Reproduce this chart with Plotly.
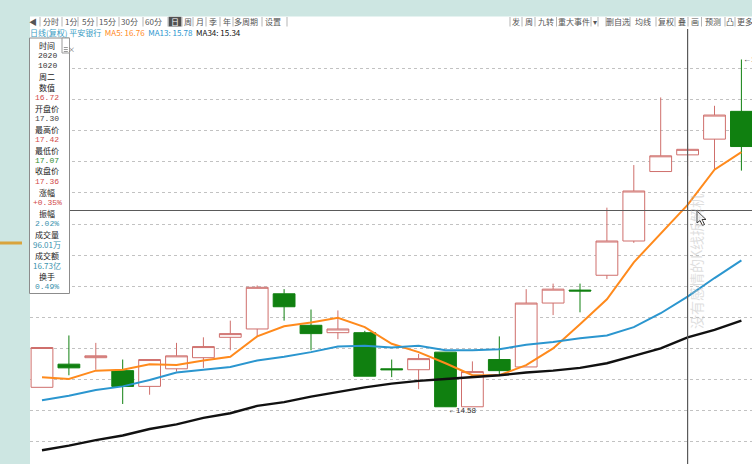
import plotly.graph_objects as go

# ---------------- data ----------------
dates = ["2020-09-08", "2020-09-09", "2020-09-10", "2020-09-11", "2020-09-14", "2020-09-15",
         "2020-09-16", "2020-09-17", "2020-09-18", "2020-09-21", "2020-09-22", "2020-09-23",
         "2020-09-24", "2020-09-25", "2020-09-28", "2020-09-29", "2020-09-30", "2020-10-09",
         "2020-10-12", "2020-10-13", "2020-10-14", "2020-10-15", "2020-10-16", "2020-10-19",
         "2020-10-20", "2020-10-21", "2020-10-22"]
open_ = [14.79, 15.04, 15.11, 14.97, 14.80, 14.99, 15.11, 15.33, 15.42, 15.80, 15.46, 15.38, 15.38, 14.99,
         14.98, 15.17, 14.58, 15.09, 15.01, 15.70, 15.84, 16.00, 16.37, 17.12, 17.30, 17.47, 17.77]
high = [15.22, 15.35, 15.27, 15.09, 15.09, 15.27, 15.33, 15.51, 15.89, 15.85, 15.63, 15.62, 15.40, 15.09,
        15.15, 15.17, 15.07, 15.34, 15.85, 15.91, 15.91, 16.73, 17.19, 17.92, 17.42, 17.83, 18.33]
low = [14.79, 14.92, 14.98, 14.61, 14.71, 14.96, 15.00, 15.19, 15.34, 15.51, 15.19, 15.31, 14.91, 14.90,
       14.77, 14.58, 14.58, 14.92, 15.01, 15.57, 15.60, 15.96, 16.35, 17.12, 17.07, 17.14, 17.13]
close = [15.22, 15.00, 15.13, 14.80, 15.09, 15.13, 15.23, 15.37, 15.87, 15.66, 15.37, 15.42, 14.91, 14.98,
         15.10, 14.58, 14.96, 14.97, 15.70, 15.85, 15.83, 16.37, 16.91, 17.29, 17.36, 17.73, 17.39]
ma5 = [14.90, 14.88, 14.97, 14.98, 15.04, 15.03, 15.08, 15.12, 15.34, 15.45, 15.49, 15.54, 15.44, 15.26,
       15.17, 15.05, 14.92, 14.92, 15.03, 15.21, 15.47, 15.74, 16.14, 16.45, 16.76, 17.14, 17.33]
ma13 = [14.65, 14.70, 14.76, 14.80, 14.87, 14.95, 14.98, 15.01, 15.08, 15.12, 15.17, 15.23, 15.24, 15.22,
        15.24, 15.19, 15.19, 15.20, 15.25, 15.28, 15.32, 15.35, 15.44, 15.59, 15.77, 15.97, 16.16]
ma34 = [14.11, 14.16, 14.22, 14.27, 14.34, 14.39, 14.46, 14.51, 14.59, 14.63, 14.69, 14.74, 14.79, 14.83,
        14.86, 14.88, 14.90, 14.92, 14.95, 14.97, 15.00, 15.05, 15.13, 15.21, 15.33, 15.41, 15.51]

stock_name = "平安银行"
chart_kind = "日线(复权)"
ma_labels = ["MA5", "MA13", "MA34"]
ma_header_values = [16.76, 15.78, 15.34]
cursor_index = 24

panel_labels = ["时间", "2020", "1020", "周二", "数值", "16.72", "开盘价", "17.30", "最高价", "17.42",
                "最低价", "17.07", "收盘价", "17.36", "涨幅", "+0.35%", "振幅", "2.02%", "成交量",
                "96.01万", "成交额", "16.73亿", "换手", "0.49%"]
panel_kinds = ["t", "n", "n", "t", "t", "up", "t", "flat", "t", "up", "t", "down", "t", "up", "t", "up",
               "t", "info", "t", "info", "t", "info", "t", "info"]

toolbar_left = ["◀", "分时", "1分", "5分", "15分", "30分", "60分", "日", "周", "月", "季", "年", "多周期", "设置"]
toolbar_right = ["发", "周", "九转", "重大事件", "▾", "删自选", "均线", "复权", "叠", "画", "预测", "凸", "更多"]
watermark = "没有感情的K线拆解机"

# ---------------- styling / layout helpers ----------------
W, H = 752, 464
L, T = 30, 38
PW, PH = W - L, H - T


def PX(x):
    return (x - L) / PW


def PY(y):
    return (H - y) / PH


TEAL = "#cde6e2"
UP = "#cf6f6c"
DOWN = "#108010"
ORANGE = "#ff8a1c"
BLUE = "#2b96cf"
BLACK = "#111111"
CJK = "Noto Sans CJK SC"
MONO = "Liberation Mono"

fig = go.Figure()

fig.add_trace(go.Candlestick(
    x=dates, open=open_, high=high, low=low, close=close,
    increasing=dict(line=dict(color=UP, width=1), fillcolor="white"),
    decreasing=dict(line=dict(color=DOWN, width=1), fillcolor=DOWN),
    whiskerwidth=0, hoverinfo="skip", showlegend=False,
))
for vals, col, w in [(ma5, ORANGE, 2), (ma13, BLUE, 2), (ma34, BLACK, 2.4)]:
    fig.add_trace(go.Scatter(x=dates, y=vals, mode="lines", line=dict(color=col, width=w),
                             hoverinfo="skip", showlegend=False))

shapes = []
annotations = []

# header white band
shapes.append(dict(type="rect", xref="paper", yref="paper", x0=0, x1=1, y0=PY(38), y1=PY(16.5),
                   fillcolor="white", line=dict(width=0), layer="below"))

# toolbar
tl_x = [33, 50.5, 70.5, 87.5, 107, 129, 153, 175, 187.5, 199.5, 213, 227, 246, 273]
tl_sep = [40, 62, 78, 97, 119, 143, 168, 182, 193, 206, 220, 233, 262, 287]
tr_x = [516, 528.5, 545.5, 573.5, 594.5, 618, 643, 665.5, 681.5, 694.5, 713, 730, 745]
tr_sep = [510, 522, 535, 556.5, 591, 598, 606, 630, 656, 675, 688, 701.5, 725, 735]
shapes.append(dict(type="rect", xref="paper", yref="paper", x0=PX(168.5), x1=PX(181.5),
                   y0=PY(26.5), y1=PY(16.8), fillcolor="#505050", line=dict(width=0)))
for s in tl_sep + tr_sep:
    shapes.append(dict(type="line", xref="paper", yref="paper", x0=PX(s), x1=PX(s),
                       y0=PY(17), y1=PY(26.5), line=dict(color="#b5b5b5", width=1)))
for txt, x in list(zip(toolbar_left, tl_x)) + list(zip(toolbar_right, tr_x)):
    annotations.append(dict(text=txt, x=PX(x), y=PY(22), xref="paper", yref="paper",
                            xanchor="center", yanchor="middle", showarrow=False,
                            font=dict(family=CJK, size=8,
                                      color="white" if (txt == "日" and x < 200) else "#555555")))

# subtitle
ma_cols = [ORANGE, BLUE, BLACK]
sub = '<span style="color:#3a9cc4">%s %s</span>' % (chart_kind, stock_name)
for lab, v, c in zip(ma_labels, ma_header_values, ma_cols):
    sub += '  <span style="color:%s">%s: %.2f</span>' % (c, lab, v)
annotations.append(dict(text=sub, x=PX(28), y=PY(32), xref="paper", yref="paper", xanchor="left",
                        yanchor="middle", showarrow=False, font=dict(family=CJK, size=8)))

# crosshair
shapes.append(dict(type="line", xref="paper", yref="paper", x0=0, x1=1, y0=PY(210.5), y1=PY(210.5),
                   line=dict(color="#5a5a5a", width=1.2)))
shapes.append(dict(type="line", xref="x", yref="paper", x0=dates[cursor_index], x1=dates[cursor_index],
                   y0=0, y1=PY(29), line=dict(color="#5a5a5a", width=1.2)))

# info panel
shapes.append(dict(type="rect", xref="paper", yref="paper", x0=PX(29.5), x1=PX(69.5), y0=PY(293.5), y1=PY(38),
                   fillcolor="white", line=dict(color="#8c8c8c", width=1)))
shapes.append(dict(type="rect", xref="paper", yref="paper", x0=PX(62), x1=PX(69.5), y0=PY(53), y1=PY(38),
                   fillcolor="white", line=dict(color="#9a9a9a", width=1)))
annotations.append(dict(text="×", x=PX(65.7), y=PY(42.5), xref="paper", yref="paper", showarrow=False,
                        font=dict(family=CJK, size=7, color="#666")))
for yy in (47.5, 49.5, 51.5):
    shapes.append(dict(type="line", xref="paper", yref="paper", x0=PX(63.8), x1=PX(67.8),
                       y0=PY(yy), y1=PY(yy), line=dict(color="#999", width=1)))
kind_col = {"t": "#222222", "n": "#333333", "up": "#d24a4a", "down": "#2e8b2e", "flat": "#444444",
            "info": "#3a92ad"}
for k, (txt, kd) in enumerate(zip(panel_labels, panel_kinds)):
    is_t = kd == "t"
    annotations.append(dict(text=txt, x=PX(47), y=PY(45 + 10.5 * k), xref="paper", yref="paper",
                            xanchor="center", yanchor="middle", showarrow=False,
                            font=dict(family=CJK if (is_t or "万" in txt or "亿" in txt) else MONO,
                                      size=8 if is_t else 8, color=kind_col[kd])))

# left orange mark
shapes.append(dict(type="line", xref="paper", yref="paper", x0=PX(0), x1=PX(22), y0=PY(243), y1=PY(243),
                   line=dict(color="#d9a43c", width=3)))

# min / max markers
i_min = low.index(min(low))
i_max = high.index(max(high))
annotations.append(dict(text="←%.2f" % low[i_min], x=dates[i_min], y=low[i_min], xref="x", yref="y",
                        xanchor="left", yanchor="middle", yshift=-4, showarrow=False,
                        font=dict(family="Liberation Sans", size=8, color="#333")))
annotations.append(dict(text="←%.2f" % high[i_max], x=dates[i_max], y=high[i_max], xref="x", yref="y",
                        xanchor="left", yanchor="middle", showarrow=False,
                        font=dict(family="Liberation Sans", size=8, color="#333")))

# watermark
annotations.append(dict(text=watermark, x=PX(708), y=PY(262), xref="paper", yref="paper", textangle=-90,
                        showarrow=False, font=dict(family=CJK, size=14, color="rgba(190,190,190,0.5)")))

# mouse cursor
pts = [(697, 211), (697, 223), (700, 220.5), (702.5, 225.5), (704.5, 224.5), (702, 219.5), (706, 219.5)]
path = "M " + " L ".join("%f,%f" % (PX(a), PY(b)) for a, b in pts) + " Z"
shapes.append(dict(type="path", xref="paper", yref="paper", path=path, fillcolor="white",
                   line=dict(color="#333", width=1)))

fig.update_layout(
    width=W, height=H,
    margin=dict(l=L, r=0, t=T, b=0, pad=0, autoexpand=False),
    paper_bgcolor=TEAL, plot_bgcolor="white",
    showlegend=False, hovermode=False,
    boxgap=0.19, boxgroupgap=0,
    shapes=shapes, annotations=annotations,
    xaxis=dict(type="category", range=[-0.446, 26.394], showticklabels=False, showgrid=False,
               zeroline=False, showline=False, ticks="", fixedrange=True,
               rangeslider=dict(visible=False)),
    yaxis=dict(range=[13.962, 18.562], tick0=14.21, dtick=0.3348, showticklabels=False,
               showgrid=True, gridcolor="#c2c2c2", griddash="dot", gridwidth=1,
               zeroline=False, showline=False, ticks="", fixedrange=True),
)

fig.write_html("out.html", config={"displayModeBar": False, "staticPlot": True},
               post_script="document.body.style.margin='0';document.body.style.overflow='hidden';")
